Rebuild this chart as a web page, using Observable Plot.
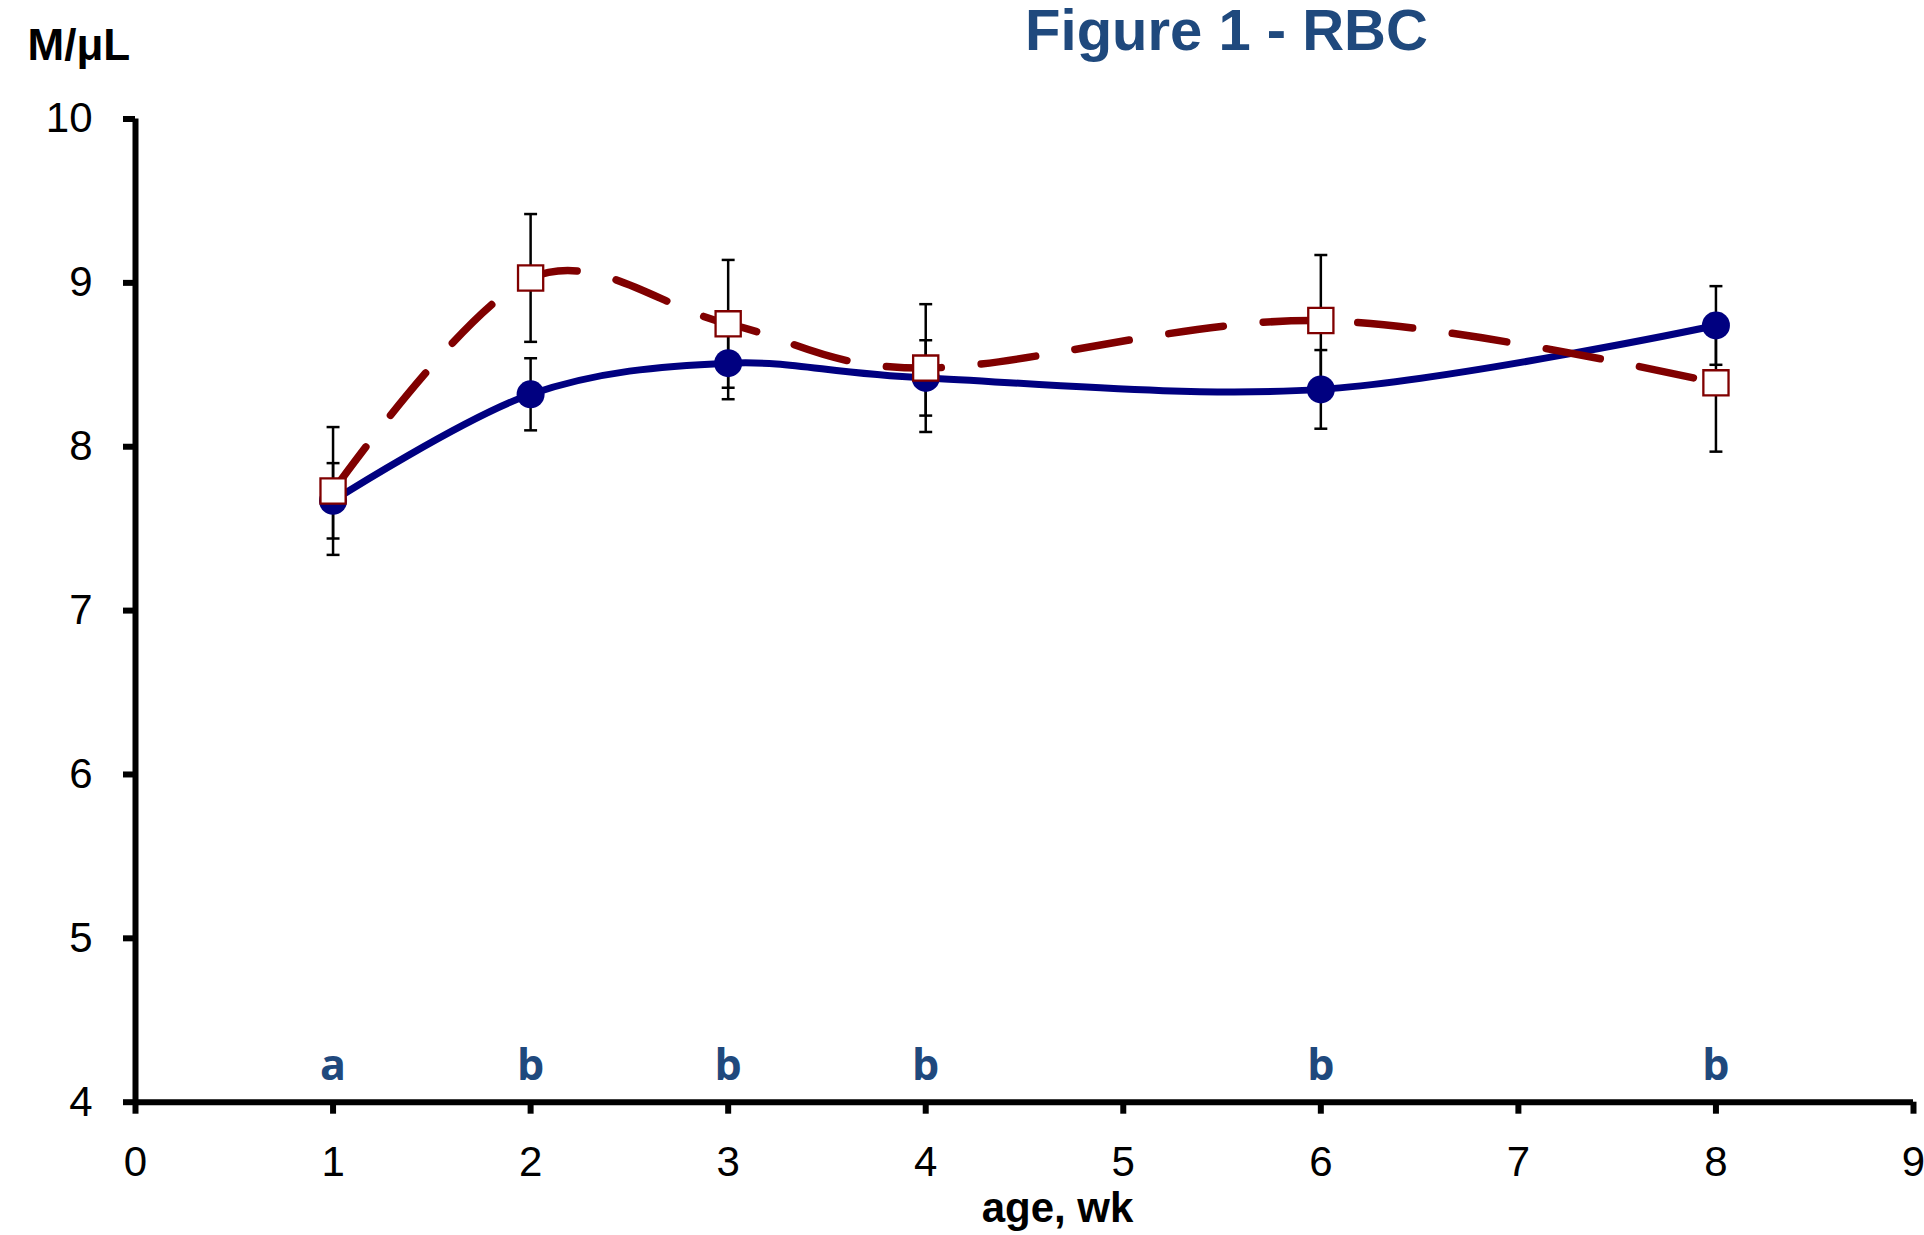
<!DOCTYPE html>
<html>
<head>
<meta charset="utf-8">
<script src="https://cdn.jsdelivr.net/npm/d3@7"></script>
<script src="https://cdn.jsdelivr.net/npm/@observablehq/plot@0.6"></script>
<style>
  html, body { margin: 0; padding: 0; background: #fff; }
  #chart svg { display: block; }
</style>
</head>
<body>
<div id="chart"></div>
<script>
// ---- data ----
const weeks    = [1, 2, 3, 4, 6, 8];
const letters  = ["a", "b", "b", "b", "b", "b"];
const blueMean = [7.67, 8.32, 8.51, 8.42, 8.35, 8.74];
const blueErr  = [0.23, 0.22, 0.22, 0.23, 0.24, 0.24];
const redMean  = [7.73, 9.03, 8.75, 8.48, 8.77, 8.39];
const redErr   = [0.39, 0.39, 0.39, 0.39, 0.40, 0.42];
const xTicks   = [0, 1, 2, 3, 4, 5, 6, 7, 8, 9];
const yTicks   = [4, 5, 6, 7, 8, 9, 10];
const title    = "Figure 1 - RBC";
const yLabel   = "M/μL";
const xLabel   = "age, wk";

const blue = weeks.map((w, i) => ({week: w, mean: blueMean[i], err: blueErr[i]}));
const red  = weeks.map((w, i) => ({week: w, mean: redMean[i], err: redErr[i]}));
const lettersData = weeks.map((w, i) => ({week: w, letter: letters[i]}));

const NAVY = "#000080";
const MAROON = "#800000";
const TITLE_BLUE = "#1F497D";

// horizontal cap symbol for error bars
const capSymbol = {
  draw(context, size) {
    const w = Math.sqrt(size) / 2;
    context.moveTo(-w, 0);
    context.lineTo(w, 0);
  }
};

const chart = Plot.plot({
  width: 1924,
  height: 1235,
  marginLeft: 135,
  marginRight: 11,
  marginTop: 118.5,
  marginBottom: 133.3,
  style: {fontFamily: "'Liberation Sans', Arial, sans-serif", color: "black", background: "white", overflow: "visible"},
  x: {domain: [0, 9], axis: null},
  y: {domain: [4, 10], axis: null},
  marks: [
    // axes lines
    Plot.ruleX([0], {stroke: "black", strokeWidth: 6}),
    Plot.ruleY([4], {stroke: "black", strokeWidth: 6}),
    Plot.axisX({ticks: xTicks, tickFormat: d3.format("d"), tickSize: 12, tickPadding: 32, strokeWidth: 6, fontSize: 42, label: null, anchor: "bottom"}),
    Plot.axisY({ticks: yTicks, tickFormat: d3.format("d"), tickSize: 12, tickPadding: 31, strokeWidth: 6, fontSize: 42, label: null, anchor: "left"}),
    // series lines
    Plot.line(blue, {x: "week", y: "mean", curve: "cardinal", stroke: NAVY, strokeWidth: 7}),
    Plot.line(red, {x: "week", y: "mean", curve: "cardinal", stroke: MAROON, strokeWidth: 7.5,
      strokeDasharray: "55,40", strokeLinecap: "round"}),
    // error bars
    Plot.ruleX(blue, {x: "week", y1: d => d.mean - d.err, y2: d => d.mean + d.err, stroke: "black", strokeWidth: 2.5}),
    Plot.ruleX(red, {x: "week", y1: d => d.mean - d.err, y2: d => d.mean + d.err, stroke: "black", strokeWidth: 2.5}),
    Plot.dot(blue, {x: "week", y: d => d.mean + d.err, symbol: capSymbol, r: 7.3, stroke: "black", strokeWidth: 2.5, fill: "none"}),
    Plot.dot(blue, {x: "week", y: d => d.mean - d.err, symbol: capSymbol, r: 7.3, stroke: "black", strokeWidth: 2.5, fill: "none"}),
    Plot.dot(red, {x: "week", y: d => d.mean + d.err, symbol: capSymbol, r: 7.3, stroke: "black", strokeWidth: 2.5, fill: "none"}),
    Plot.dot(red, {x: "week", y: d => d.mean - d.err, symbol: capSymbol, r: 7.3, stroke: "black", strokeWidth: 2.5, fill: "none"}),
    // markers
    Plot.dot(blue, {x: "week", y: "mean", r: 14, fill: NAVY, stroke: "none", symbol: "circle"}),
    Plot.dot(red, {x: "week", y: "mean", r: 14.2, fill: "white", stroke: MAROON, strokeWidth: 2.3, symbol: "square"}),
    // significance letters
    Plot.text(lettersData, {x: "week", frameAnchor: "bottom", text: "letter", dy: -36, lineAnchor: "middle",
      fill: TITLE_BLUE, fontSize: 43, fontWeight: "bold", fontFamily: "'Open Sans', sans-serif"}),
    // title and axis labels
    Plot.text([title], {frameAnchor: "top", dx: 202, dy: -88, lineAnchor: "middle", text: d => d,
      fill: TITLE_BLUE, fontSize: 58, fontWeight: "bold"}),
    Plot.text([yLabel], {frameAnchor: "top-left", dx: -108, dy: -73, lineAnchor: "middle", textAnchor: "start", text: d => d,
      fill: "black", fontSize: 44, fontWeight: "bold"}),
    Plot.text([xLabel], {frameAnchor: "bottom", dx: 33, dy: 106, lineAnchor: "middle", text: d => d,
      fill: "black", fontSize: 42, fontWeight: "bold"})
  ]
});

document.getElementById("chart").appendChild(chart);
</script>
</body>
</html>
